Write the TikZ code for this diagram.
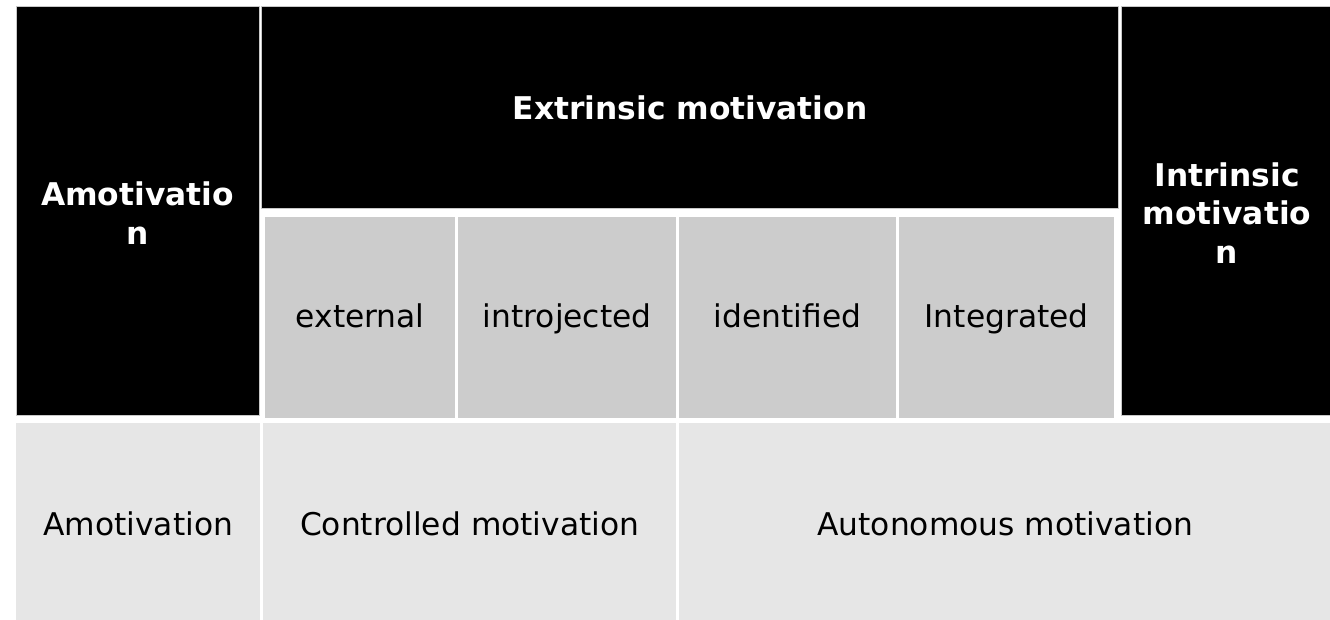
\documentclass[tikz,border=0pt]{standalone}
\usepackage{fontspec}
\setmainfont{DejaVu Sans}

\definecolor{subgray}{HTML}{CCCCCC}
\definecolor{rowgray}{HTML}{E6E6E6}
\definecolor{edgegray}{HTML}{C8C8C8}

\begin{document}
\begin{tikzpicture}[x=1pt, y=-1pt,
  every node/.style={rectangle, inner sep=0pt, anchor=north west, align=center,
    font=\fontsize{31.3}{38.5}\selectfont},
  head/.style={fill=black, draw=edgegray, line width=1pt, text=white, font=\fontsize{31.3}{38.5}\selectfont\bfseries},
  headtext/.style={anchor=center, text=white, font=\fontsize{31.3}{38.5}\selectfont\bfseries},
  sub/.style={fill=subgray, minimum height=201pt, text height=26pt, text depth=7pt},
  row/.style={fill=rowgray, minimum height=197pt, text height=34pt, text depth=7pt}]

\useasboundingbox (0,0) rectangle (1330,620);

% Black header blocks
\node[head, minimum width=243pt, minimum height=409pt] (amohead) at (16,6) {};
\node[head, minimum width=857pt, minimum height=202pt, text height=31pt, text depth=7pt] (exthead) at (261,6) {Extrinsic motivation};
\node[head, minimum width=210pt, minimum height=409pt] (inthead) at (1121,6) {};

% Wrapped titles of the tall blocks
\node[headtext] (amotext) at (137.5,213) {Amotivatio\\n};
\node[headtext] (inttext) at (1227,213) {Intrinsic\\motivatio\\n};

% Regulation types under extrinsic motivation
\node[sub, minimum width=190pt] (external) at (265,217) {external};
\node[sub, minimum width=218pt] (introjected) at (458,217) {introjected};
\node[sub, minimum width=217pt] (identified) at (679,217) {identified};
\node[sub, minimum width=215pt] (integrated) at (899,217) {Integrated};

% Bottom row
\node[row, minimum width=244pt] (amorow) at (16,423) {Amotivation};
\node[row, minimum width=413pt] (controlled) at (263,423) {Controlled motivation};
\node[row, minimum width=652pt] (autonomous) at (679,423) {Autonomous motivation};

\end{tikzpicture}
\end{document}
